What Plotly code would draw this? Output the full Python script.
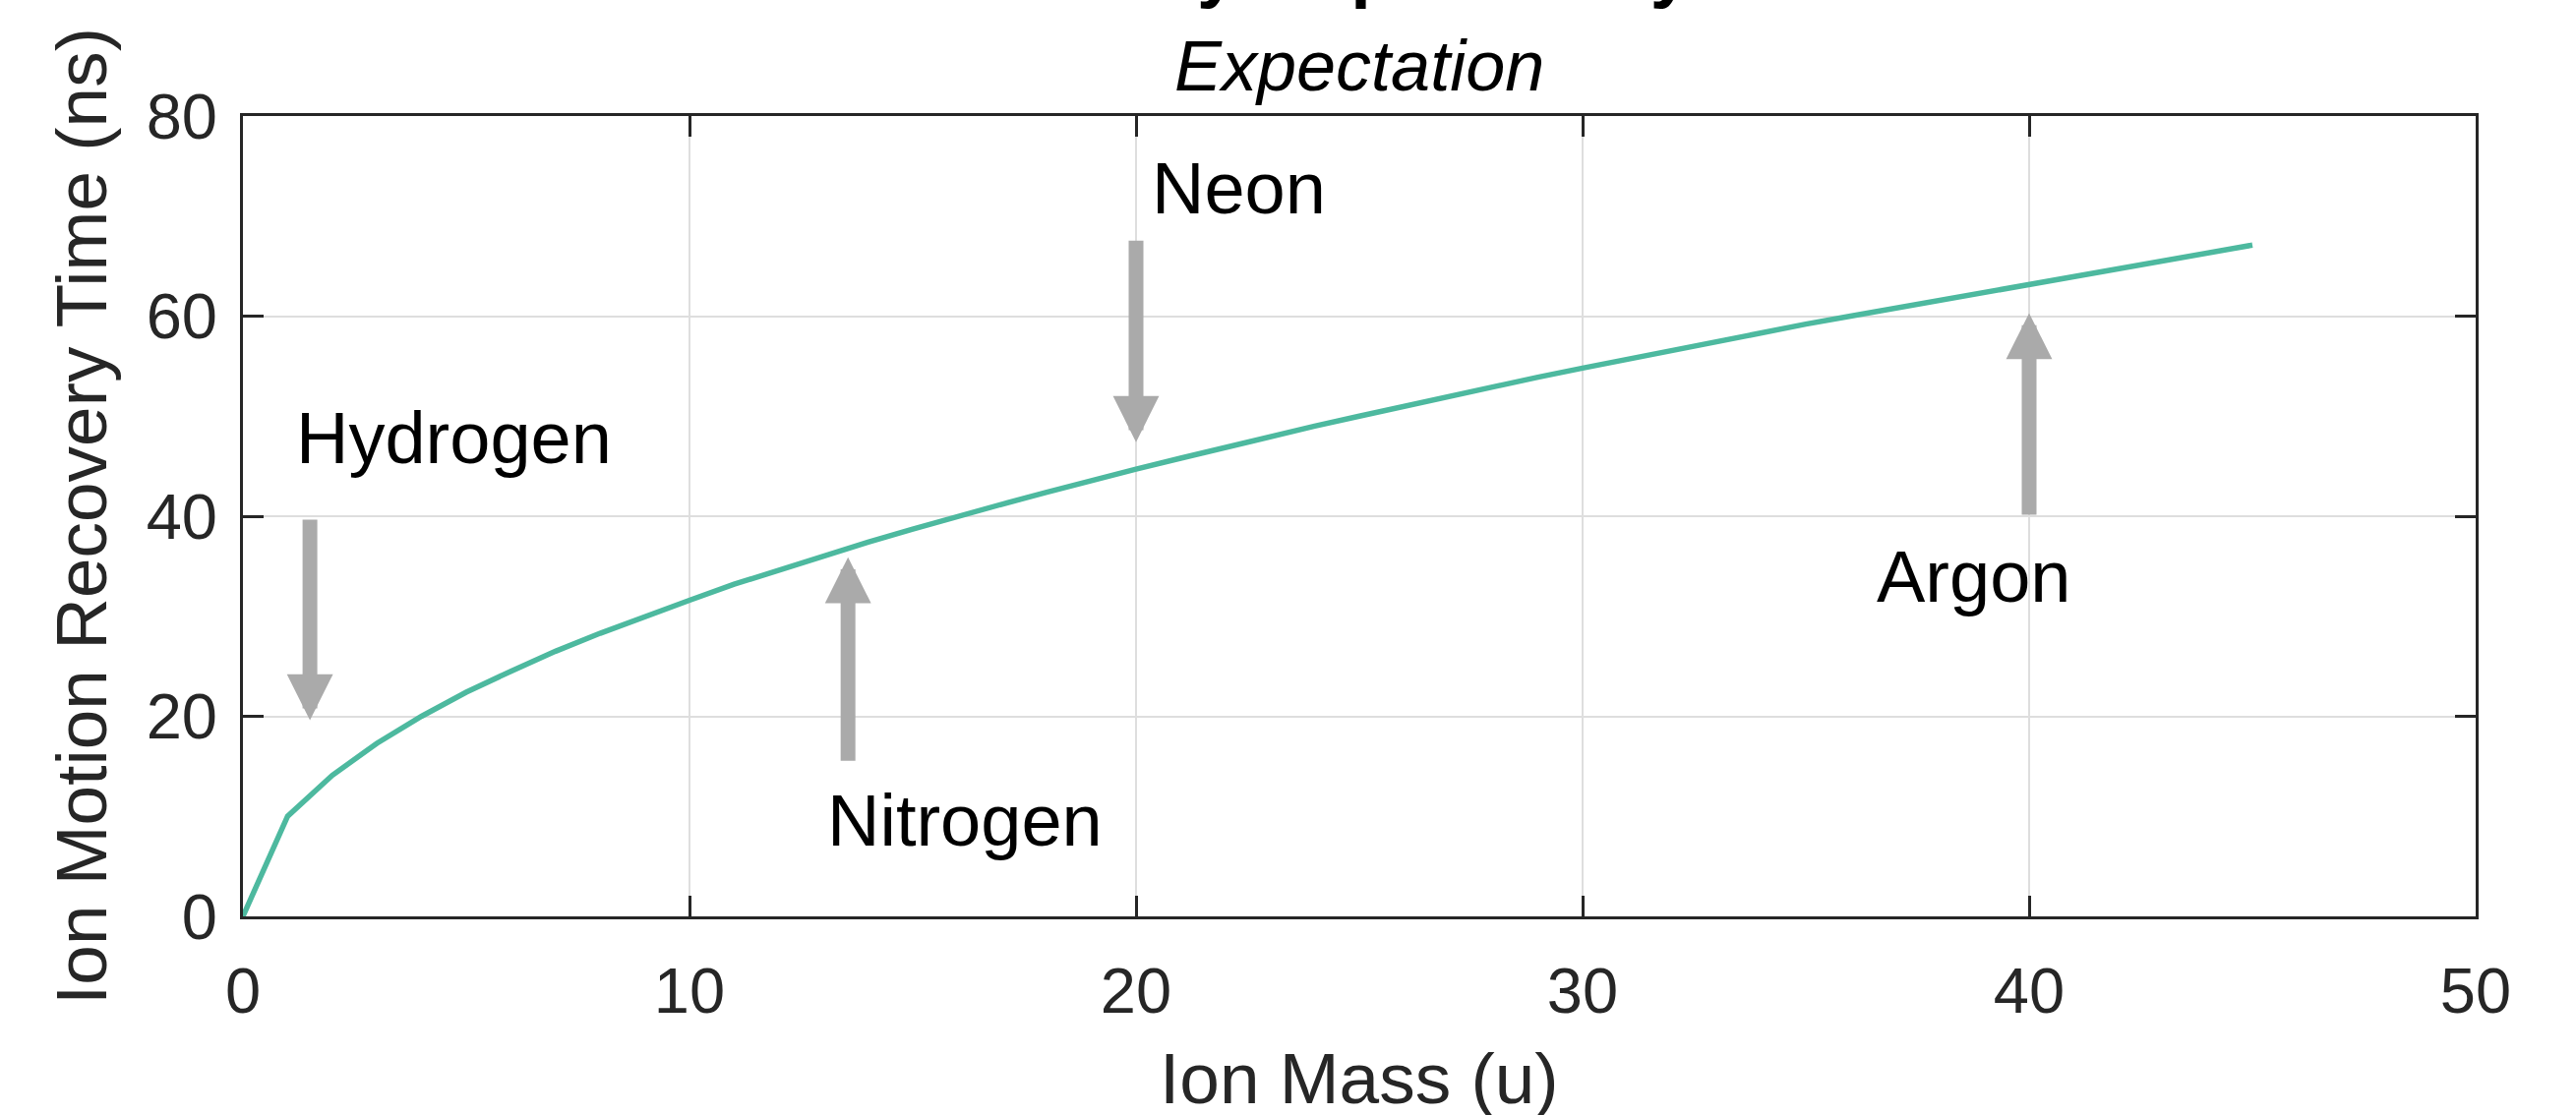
import plotly.graph_objects as go

# ---- data ----
ion_mass = list(range(0, 46))
recovery_time = [0, 10, 14.1, 17.3, 20, 22.4, 24.5, 26.5, 28.3, 30, 31.6, 33.2, 34.6, 36.1,
                 37.4, 38.7, 40, 41.2, 42.4, 43.6, 44.7, 45.8, 46.9, 48, 49, 50, 51, 52,
                 52.9, 53.9, 54.8, 55.7, 56.6, 57.4, 58.3, 59.2, 60, 60.8, 61.6, 62.4,
                 63.2, 64, 64.8, 65.6, 66.3, 67.1]

# annotation arrows: element, arrow x, tail y, tip y
species = ["Hydrogen", "Nitrogen", "Neon", "Argon"]
arrow_x = [1.5, 13.55, 20, 40]
arrow_tail_y = [39.8, 15.4, 67.7, 40]
arrow_tip_y = [19.6, 35.9, 47.4, 60.3]
label_x = [1.15, 13.05, 20.3, 36.55]
label_y = [47.8, 9.6, 72.8, 34.0]

x_ticks = [0, 10, 20, 30, 40, 50]
y_ticks = [0, 20, 40, 60, 80]

FONT = "Liberation Sans, Arial, Helvetica, sans-serif"
DARK = "#262626"
TEAL = "#4DB99F"
GRAY = "#AAAAAA"

fig = go.Figure()
fig.add_trace(go.Scatter(x=ion_mass, y=recovery_time, mode="lines",
                         line=dict(color=TEAL, width=5.5), showlegend=False,
                         hoverinfo="x+y"))

annotations = []
for name, ax_, ty, hy, lx, ly in zip(species, arrow_x, arrow_tail_y, arrow_tip_y, label_x, label_y):
    annotations.append(dict(x=ax_, y=hy, ax=ax_, ay=ty, xref="x", yref="y",
                            axref="x", ayref="y", text="", showarrow=True,
                            arrowhead=2, arrowwidth=15, arrowsize=0.625,
                            arrowcolor=GRAY, standoff=0, startstandoff=0))
    annotations.append(dict(x=lx, y=ly, xref="x", yref="y", text=name, showarrow=False,
                            xanchor="left", yanchor="middle",
                            font=dict(family=FONT, size=74, color="black")))

# titles
annotations.append(dict(x=0.4736, y=1.13, xref="paper", yref="paper",
                        text="<b>Recovery Dependency</b>", showarrow=False,
                        xanchor="center", yanchor="bottom",
                        font=dict(family=FONT, size=74, color="black")))
annotations.append(dict(x=0.5, y=1.0627, xref="paper", yref="paper",
                        text="<i>Expectation</i>", showarrow=False,
                        xanchor="center", yanchor="middle",
                        font=dict(family=FONT, size=72, color="black")))
annotations.append(dict(x=0.5, y=-0.2015, xref="paper", yref="paper",
                        text="Ion Mass (u)", showarrow=False,
                        xanchor="center", yanchor="middle",
                        font=dict(family=FONT, size=73, color=DARK)))
annotations.append(dict(x=-0.0727, y=0.5, xref="paper", yref="paper",
                        text="Ion Motion Recovery Time (ns)", showarrow=False,
                        textangle=-90, xanchor="center", yanchor="middle",
                        font=dict(family=FONT, size=73, color=DARK)))

axis_common = dict(showline=True, mirror="ticks", linecolor=DARK, linewidth=3,
                   ticks="inside", ticklen=21, tickwidth=2.5, tickcolor=DARK,
                   showgrid=True, gridcolor="#DEDEDE", gridwidth=2,
                   zeroline=False, tickfont=dict(family=FONT, size=65, color=DARK))

fig.update_layout(
    width=2619, height=1134,
    margin=dict(l=247, r=102, t=118, b=202),
    paper_bgcolor="white", plot_bgcolor="white",
    xaxis=dict(range=[0, 50], tickvals=x_ticks, ticklabelstandoff=17, **axis_common),
    yaxis=dict(range=[0, 80], tickvals=y_ticks, ticklabelstandoff=10, **axis_common),
    annotations=annotations,
    showlegend=False,
)

fig.write_html("out.html", config={"displayModeBar": False},
               post_script="document.body.style.margin='0';document.body.style.overflow='hidden';")
